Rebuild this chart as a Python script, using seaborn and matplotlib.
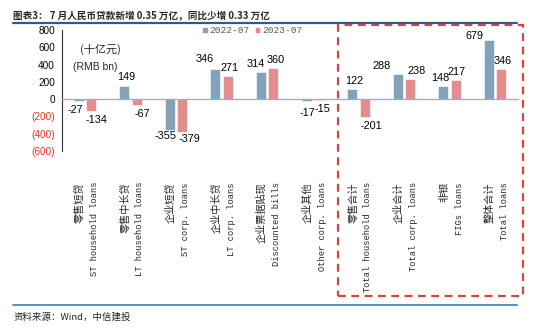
import matplotlib
matplotlib.use("Agg")
import matplotlib.pyplot as plt
import matplotlib.transforms as mtransforms
from matplotlib.patches import Rectangle
from matplotlib.lines import Line2D
import seaborn as sns
import pandas as pd

# ---- data ----
cat_cn = ["零售短贷", "零售中长贷", "企业短贷", "企业中长贷", "企业票据贴现",
          "企业其他", "零售合计", "企业合计", "非银", "整体合计"]
cat_en = ["ST household loans", "LT household loans", "ST corp. loans", "LT corp. loans",
          "Discounted bills", "Other corp. loans", "Total household loans",
          "Total corp. loans", "FIGs loans", "Total loans"]
series_names = ["2022-07", "2023-07"]
v2022 = [-27, 149, -355, 346, 314, -17, 122, 288, 148, 679]
v2023 = [-134, -67, -379, 271, 360, -15, -201, 238, 217, 346]
yticks = [800, 600, 400, 200, 0, -200, -400, -600]
ytick_labels = ["800", "600", "400", "200", "0", "(200)", "(400)", "(600)"]

title = "图表3： 7 月人民币贷款新增 0.35 万亿，同比少增 0.33 万亿"
source = "资料来源：Wind，中信建投"
unit_cn = "(十亿元)"
unit_en = "(RMB bn)"

# label placement tweaks (pixels), as in the original layout
label_dx = [[-3, 2, -4, -11, -5, 1, 2, -16, -3, -15],
            [5, 6, 7, 2, 2, 3, 7, 6, 1, 1]]
label_dy = [[4, 4, 1, 5, 3, 7, 3, 3, 3, -1],
            [4, 4, 2, 3, 3, 4, 4, 3, 3, 3]]

colors = ["#7BA3C0", "#F08080"]

df = pd.DataFrame({
    "cat": cat_en * 2,
    "series": [series_names[0]] * len(cat_en) + [series_names[1]] * len(cat_en),
    "value": v2022 + v2023,
})

sns.set_style("white")
plt.rcParams["font.family"] = ["Liberation Sans", "Noto Sans CJK SC"]

fig = plt.figure(figsize=(5.5, 3.32), dpi=100)
W, H = 550, 332
ax = fig.add_axes([62 / W, 1 - 151 / H, 456 / W, 121 / H])

sns.barplot(data=df, x="cat", y="value", hue="series", order=cat_en,
            hue_order=series_names, palette=colors, width=0.54, gap=0.18,
            edgecolor="white", linewidth=0.4, ax=ax, legend=True)

ax.set_ylim(-600, 800)
ax.set_xlim(-0.5, len(cat_en) - 0.5)
ax.set_yticks(yticks)
ax.set_yticklabels(ytick_labels)
for lbl, v in zip(ax.get_yticklabels(), yticks):
    lbl.set_color("#E8302A" if v < 0 else "black")
    lbl.set_fontsize(7.2)
ax.tick_params(axis="y", direction="out", length=3, width=0.7, color="#444444", pad=2)

for s in ["top", "right"]:
    ax.spines[s].set_visible(False)
ax.spines["left"].set_color("#333333")
ax.spines["left"].set_linewidth(0.8)
ax.spines["bottom"].set_position(("data", 0))
ax.spines["bottom"].set_color("#8FB4DC")
ax.spines["bottom"].set_linewidth(1.0)

# ticks at category boundaries
ax.set_xticks([i + 0.5 for i in range(-1, len(cat_en))], minor=True)
ax.tick_params(axis="x", which="minor", direction="out", length=3, width=0.8, color="#8FB4DC")
ax.set_xticks(range(len(cat_en)))
ax.set_xticklabels([])
ax.tick_params(axis="x", which="major", length=0)
ax.set_xlabel("")
ax.set_ylabel("")

# value labels
for si, cont in enumerate(ax.containers):
    for bi, patch in enumerate(cont.patches):
        h = patch.get_height()
        xc = patch.get_x() + patch.get_width() / 2
        neg = h < 0
        dy = -label_dy[si][bi] if neg else label_dy[si][bi]
        ax.annotate(f"{int(round(h))}", (xc, h), xytext=(label_dx[si][bi], dy),
                    textcoords="offset pixels", ha="center",
                    va="top" if neg else "bottom", fontsize=7.8, color="black")

# category labels (two lines, rotated)
base = mtransforms.blended_transform_factory(ax.transData, fig.transFigure)
y_top = 1 - 182 / H
for i, (cn, en) in enumerate(zip(cat_cn, cat_en)):
    t1 = mtransforms.offset_copy(base, fig=fig, x=-5.5, y=0, units="dots")
    t2 = mtransforms.offset_copy(base, fig=fig, x=9.5, y=0, units="dots")
    ax.text(i, y_top, cn, transform=t1, rotation=90, ha="center", va="top",
            fontsize=7.3, family=["Noto Sans CJK SC"], fontweight="medium", clip_on=False)
    ax.text(i, y_top, en, transform=t2, rotation=90, ha="center", va="top",
            fontsize=6.3, family=["Liberation Mono"], clip_on=False)

# unit annotations
fig.text(80 / W, 1 - 49 / H, unit_cn, fontsize=8, family=["Noto Sans CJK SC", "Liberation Sans"],
         va="center", ha="left")
fig.text(73 / W, 1 - 67 / H, unit_en, fontsize=7.5, family=["Liberation Sans"],
         va="center", ha="left")

# legend
handles, labels = ax.get_legend_handles_labels()
ax.legend(handles, labels, loc="upper left", bbox_to_anchor=(202 / W, 1 - 26 / H),
          bbox_transform=fig.transFigure, ncol=2, frameon=False,
          handlelength=0.6, handleheight=0.6, handletextpad=0.2, columnspacing=0.5,
          prop={"family": "Liberation Mono", "size": 6.8}, labelcolor="#555555",
          borderaxespad=0, borderpad=0)

# dashed highlight box
fig.patches.append(Rectangle((338 / W, 1 - 296 / H), (523 - 338) / W, (296 - 25) / H,
                             transform=fig.transFigure, fill=False, edgecolor="#D64541",
                             linewidth=1.6, linestyle=(0, (3.5, 2.5)), zorder=5))

# header / footer
fig.text(13 / W, 1 - 15 / H, title, fontsize=6.9, fontweight="bold",
         family=["Noto Sans CJK SC", "Liberation Serif"], va="center", ha="left")
fig.lines.append(Line2D([13 / W, 517 / W], [1 - 23 / H, 1 - 23 / H], transform=fig.transFigure,
                        color="#2E5C8A", linewidth=1.6))
fig.lines.append(Line2D([13 / W, 517 / W], [1 - 305 / H, 1 - 305 / H], transform=fig.transFigure,
                        color="#5B8DBF", linewidth=1.4))
fig.text(13 / W, 1 - 317 / H, source, fontsize=6.8, style="italic",
         family=["Noto Sans CJK SC", "Liberation Serif"], va="center", ha="left", color="#222222")

fig.savefig("out.png", dpi=100)
